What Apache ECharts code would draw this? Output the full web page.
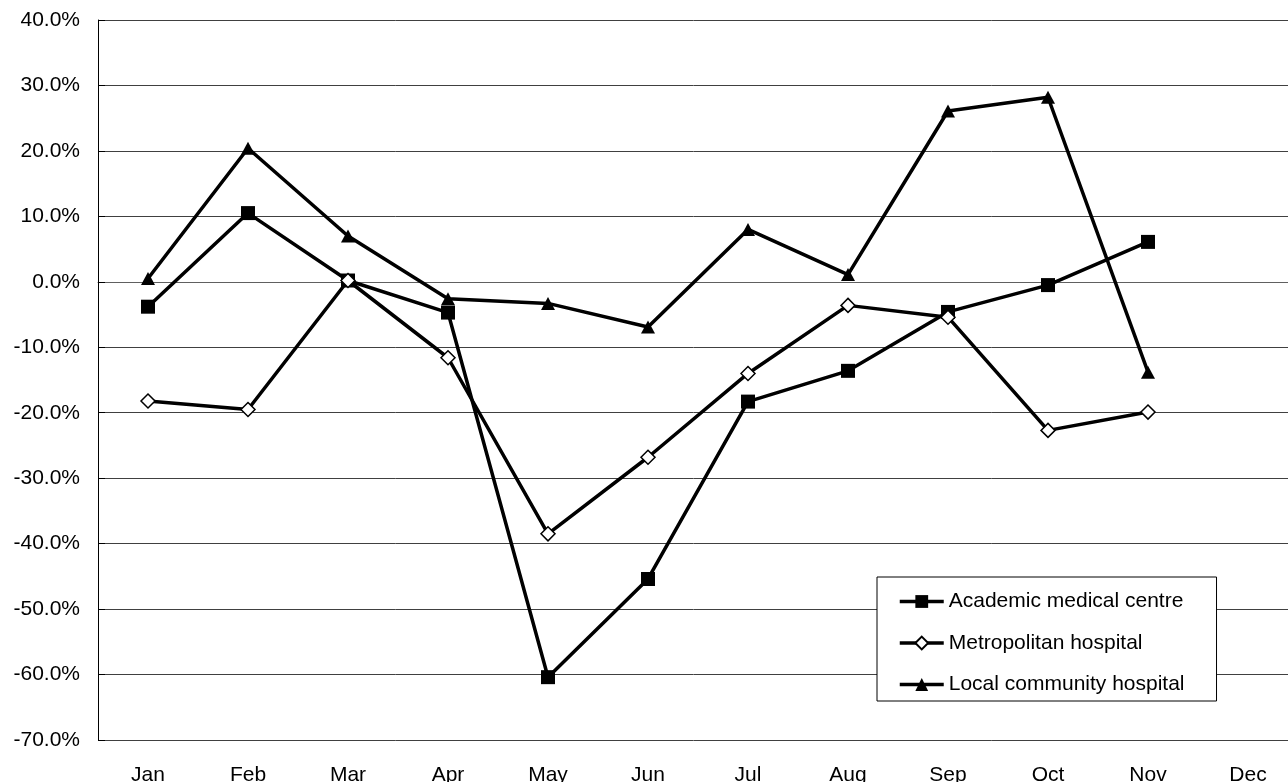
<!DOCTYPE html>
<html>
<head>
<meta charset="utf-8">
<style>
  html, body { margin: 0; padding: 0; background: #fff; overflow: hidden; }
  #chart { width: 1288px; height: 782px; }
</style>
<script src="https://cdn.jsdelivr.net/npm/echarts@6/dist/echarts.min.js"></script>
</head>
<body>
<div id="chart"></div>
<script>
const months = ['Jan', 'Feb', 'Mar', 'Apr', 'May', 'Jun', 'Jul', 'Aug', 'Sep', 'Oct', 'Nov', 'Dec'];
const academic = [-3.8, 10.5, 0.2, -4.7, -60.4, -45.4, -18.3, -13.6, -4.6, -0.5, 6.1, null];
const metropolitan = [-18.2, -19.5, 0.2, -11.6, -38.5, -26.8, -14.0, -3.6, -5.4, -22.7, -19.9, null];
const localCommunity = [0.5, 20.4, 7.0, -2.6, -3.3, -6.9, 8.0, 1.1, 26.1, 28.2, -13.8, null];
const seriesNames = ['Academic medical centre', 'Metropolitan hospital', 'Local community hospital'];
const yMin = -70, yMax = 40, yStep = 10;

const FONT = '"Liberation Sans", Arial, Helvetica, sans-serif';
const chart = echarts.init(document.getElementById('chart'), null, { renderer: 'canvas' });

const lineStyle = { color: '#000', width: 3.5 };

chart.setOption({
  animation: false,
  backgroundColor: '#fff',
  textStyle: { fontFamily: FONT, color: '#000' },
  grid: { left: 98, top: 20, width: 1200, height: 720, containLabel: false, outerBoundsMode: 'none' },
  legend: {
    orient: 'vertical',
    left: 877,
    top: 577,
    padding: [14, 32, 6, 21],
    itemGap: 20.5,
    itemWidth: 44,
    itemHeight: 16,
    backgroundColor: '#fff',
    borderColor: '#000',
    borderWidth: 1,
    lineStyle: { width: 3.5, color: '#000' },
    textStyle: { fontFamily: FONT, fontSize: 21, color: '#000' },
    data: seriesNames
  },
  xAxis: {
    type: 'category',
    data: months,
    boundaryGap: true,
    axisLine: { show: true, lineStyle: { color: '#606060', width: 1 } },
    axisTick: { show: false },
    axisLabel: { fontFamily: FONT, fontSize: 21, color: '#000', margin: 25, interval: 0 },
    splitLine: { show: false }
  },
  yAxis: {
    type: 'value',
    min: yMin,
    max: yMax,
    interval: yStep,
    axisLine: { show: true, lineStyle: { color: '#000', width: 1 } },
    axisTick: { show: true, inside: true, length: 7, lineStyle: { color: '#000' } },
    axisLabel: {
      fontFamily: FONT, fontSize: 21, color: '#000', margin: 18,
      formatter: v => v.toFixed(1) + '%'
    },
    splitLine: { show: true, lineStyle: { color: '#404040', width: 1 } }
  },
  series: [
    {
      name: seriesNames[0], type: 'line', data: academic,
      symbol: 'rect', symbolSize: 14,
      itemStyle: { color: '#000' },
      lineStyle: lineStyle, z: 3
    },
    {
      name: seriesNames[1], type: 'line', data: metropolitan,
      symbol: 'diamond', symbolSize: 14,
      itemStyle: { color: '#fff', borderColor: '#000', borderWidth: 1.5 },
      lineStyle: lineStyle, z: 4
    },
    {
      name: seriesNames[2], type: 'line', data: localCommunity,
      symbol: 'triangle', symbolSize: [14, 13],
      itemStyle: { color: '#000' },
      lineStyle: lineStyle, z: 2
    }
  ]
});
</script>
</body>
</html>
